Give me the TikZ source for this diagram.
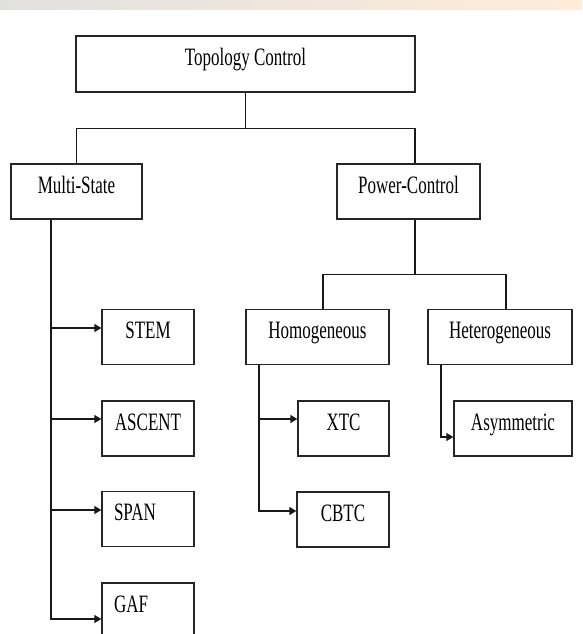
\documentclass[tikz,border=0pt]{standalone}
\usepackage{fontspec}
\setmainfont{Liberation Serif}[FakeStretch=0.68]
\usetikzlibrary{positioning, arrows.meta}

\begin{document}
\begin{tikzpicture}[x=1pt, y=-1pt,
    box/.style={draw=black!85, line width=1.3pt, minimum height=55pt, inner sep=0pt, text height=16pt, text depth=12.5pt, font=\fontsize{25}{30}\selectfont},
    leftbox/.style={box, align=left, text width=#1},
    link/.style={draw=black!90, line width=1.3pt},
    arr/.style={link, -{Triangle[length=7pt, width=8pt]}}]
    \useasboundingbox (0,0) rectangle (582,634);
    \clip (0,0) rectangle (582,634);
    \shade[left color=black!12, middle color=white, right color=orange!15] (0,0) rectangle (582,10);

    \node[box, minimum width=339pt, minimum height=56pt] (topo) at (245.5,64) {Topology Control};
    \node[box, minimum width=131pt] (multi) at (76.5,191.5) {Multi-State};
    \node[box, minimum width=143pt] (power) at (408.5,191.5) {Power-Control};
    \node[box, minimum width=143pt] (homo) at (317.5,337) {Homogeneous};
    \node[box, minimum width=144pt] (hetero) at (500,337) {Heterogeneous};

    \node[box, minimum width=92pt] (stem) at (148,337) {STEM};
    \node[box, minimum width=92pt] (ascent) at (148,428.5) {ASCENT};
    \node[leftbox=68pt, minimum width=92pt] (span) at (148,519) {SPAN};
    \node[leftbox=68pt, minimum width=92pt] (gaf) at (148,610.5) {GAF};

    \node[box, minimum width=91pt] (xtc) at (343.5,428.5) {XTC};
    \node[box, minimum width=92pt] (cbtc) at (343,519.5) {CBTC};
    \node[box, minimum width=118pt] (asym) at (513,428.5) {Asymmetric};

    \draw[link] (topo.south) -- ++(0,36) coordinate (j1);
    \draw[link] (multi.north) |- ([xshift=6.5pt]power.north |- j1) -- ([xshift=6.5pt]power.north);
    \draw[link] ([xshift=6.5pt]power.south) -- ++(0,55) coordinate (j2);
    \draw[link] ([xshift=5.5pt]homo.north) |- ([xshift=6pt]hetero.north |- j2) -- ([xshift=6pt]hetero.north);

    \coordinate (mtrunk) at ([xshift=-25.5pt]multi.south);
    \foreach \n/\dy in {stem/9, ascent/9.5, span/9, gaf/-8.5}
        \draw[arr] (mtrunk) |- ([yshift=\dy pt]\n.west);

    \coordinate (htrunk) at ([xshift=-58.5pt]homo.south);
    \foreach \n/\dy in {xtc/9.5, cbtc/8.5}
        \draw[arr] (htrunk) |- ([yshift=\dy pt]\n.west);

    \coordinate (ttrunk) at ([xshift=-59pt]hetero.south);
    \draw[arr] (ttrunk) |- ([yshift=-8.5pt]asym.west);
\end{tikzpicture}
\end{document}
